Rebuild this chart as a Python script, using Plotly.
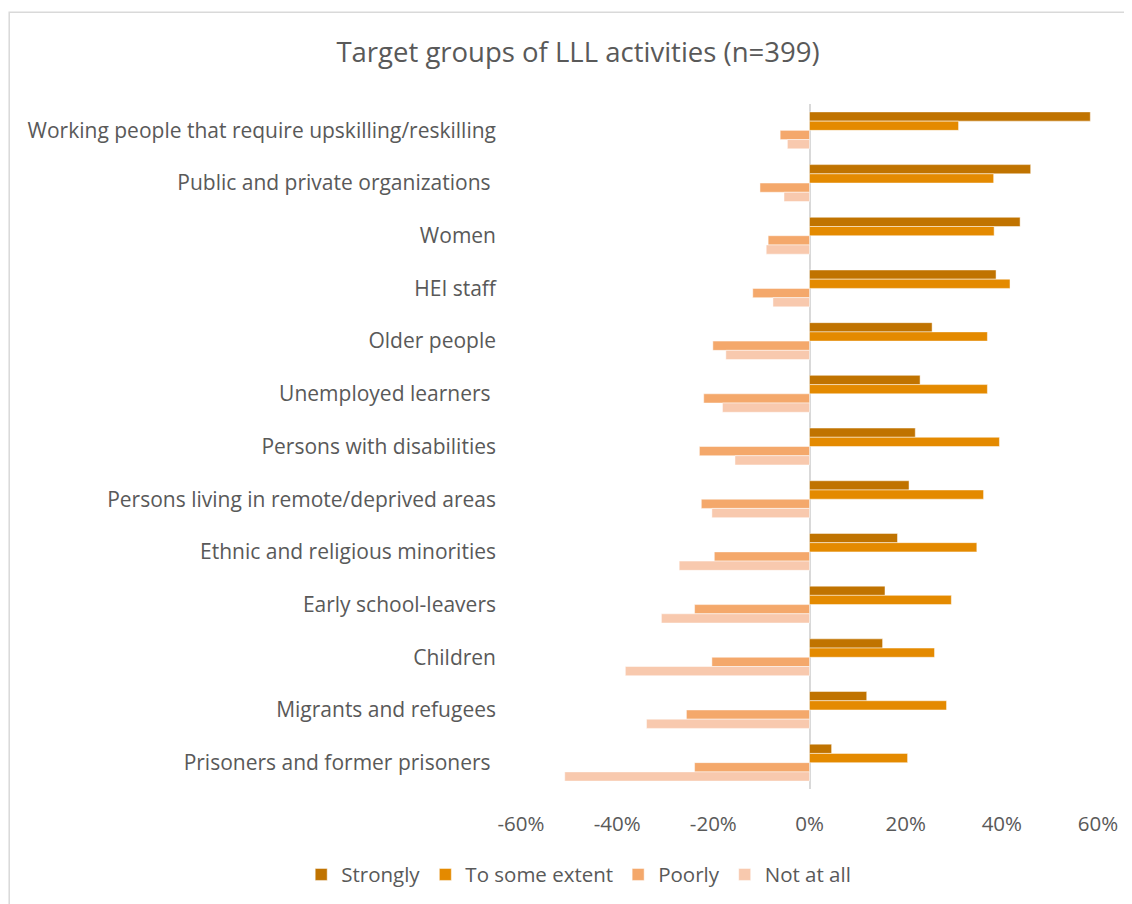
import plotly.graph_objects as go

# Target groups, top to bottom
categories = [
    "Working people that require upskilling/reskilling",
    "Public and private organizations\u00a0",
    "Women",
    "HEI staff",
    "Older people",
    "Unemployed learners\u00a0",
    "Persons with disabilities",
    "Persons living in remote/deprived areas",
    "Ethnic and religious minorities",
    "Early school-leavers",
    "Children",
    "Migrants and refugees",
    "Prisoners and former prisoners\u00a0",
]

# Shares in %, negative side for the "poor" answers
strongly = [58.4, 46.0, 43.8, 38.8, 25.5, 23.0, 22.0, 20.7, 18.3, 15.7, 15.2, 11.9, 4.6]
some_extent = [31.0, 38.3, 38.4, 41.7, 37.0, 37.0, 39.5, 36.2, 34.8, 29.5, 26.0, 28.5, 20.4]
poorly = [-6.1, -10.3, -8.6, -11.8, -20.1, -22.0, -22.9, -22.5, -19.8, -23.9, -20.3, -25.6, -23.9]
not_at_all = [-4.6, -5.3, -9.0, -7.6, -17.4, -18.1, -15.5, -20.3, -27.1, -30.8, -38.3, -33.9, -50.9]

series_names = ["Strongly", "To some extent", "Poorly", "Not at all"]
series_values = [strongly, some_extent, poorly, not_at_all]
colors = ["#C07300", "#E48A00", "#F4A86B", "#F8C9AE"]

tick_vals = [-60, -40, -20, 0, 20, 40, 60]
tick_text = ["-60%", "-40%", "-20%", "0%", "20%", "40%", "60%"]

FONT = "'Open Sans', Lato, sans-serif"
TEXT = "#595959"

fig = go.Figure()
for name, vals, col in zip(series_names, series_values, colors):
    fig.add_trace(go.Bar(
        y=categories,
        x=vals,
        name=name,
        orientation="h",
        marker=dict(color=col, line=dict(color="rgba(255,255,255,0.6)", width=0.8)),
        hovertemplate="%{y}: %{x:.1f}%<extra>" + name + "</extra>",
    ))

# outer chart frame
fig.add_shape(
    type="rect", xref="paper", yref="paper",
    x0=-0.887, x1=1.2, y0=-0.3, y1=1.134,
    line=dict(color="#D9D9D9", width=1.5), fillcolor="rgba(0,0,0,0)",
    layer="below",
)

# page body adds an 8px offset, so margins are shifted to compensate
fig.update_layout(
    width=1132,
    height=904,
    barmode="group",
    bargap=0.3,
    bargroupgap=0,
    title=dict(
        text="Target groups of LLL activities (n=399)",
        x=0.5035, xanchor="center", xref="container",
        y=0.951, yanchor="middle",
        font=dict(family=FONT, size=27.5, color=TEXT),
    ),
    font=dict(family=FONT, size=21, color=TEXT),
    plot_bgcolor="white",
    paper_bgcolor="white",
    margin=dict(l=513, r=42, t=96, b=123, autoexpand=False),
    xaxis=dict(
        range=[-60, 60],
        tickvals=tick_vals,
        ticktext=tick_text,
        showgrid=False,
        zeroline=True,
        zerolinecolor="#D9D9D9",
        zerolinewidth=2,
        showline=False,
        ticks="",
        ticklabelstandoff=20,
        tickfont=dict(family=FONT, size=20.5, color=TEXT),
        automargin=False,
        fixedrange=True,
    ),
    yaxis=dict(
        autorange="reversed",
        showgrid=False,
        showline=False,
        ticks="",
        ticklabelstandoff=24,
        tickfont=dict(family=FONT, size=21, color=TEXT),
        automargin=False,
    ),
    legend=dict(
        orientation="h",
        x=0.1, xanchor="center",
        y=-0.125, yanchor="middle",
        font=dict(family=FONT, size=20.5, color=TEXT),
        itemwidth=30,
        traceorder="normal",
    ),
    showlegend=True,
)

fig.write_html("out.html")
